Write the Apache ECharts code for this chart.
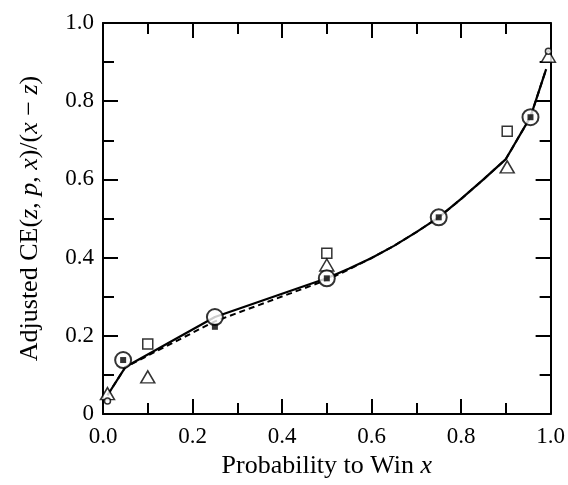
<!DOCTYPE html>
<html><head><meta charset="utf-8">
<script src="https://cdn.jsdelivr.net/npm/echarts@6/dist/echarts.min.js"></script>
<style>html,body{margin:0;padding:0;background:#fff}#c{width:568px;height:485px}</style>
</head><body><div id="c"></div>
<script>
// Solid fitted line
const solidX = [0.01, 0.05, 0.25, 0.5, 0.55, 0.6, 0.65, 0.7, 0.75, 0.8, 0.85, 0.9, 0.955, 0.99];
const solidY = [0.048, 0.12, 0.248, 0.347, 0.372, 0.399, 0.430, 0.465, 0.503, 0.55, 0.60, 0.652, 0.76, 0.882];
// Dashed fitted line
const dashX = [0.01, 0.05, 0.25, 0.5, 0.55, 0.6, 0.65, 0.7, 0.75, 0.8, 0.85, 0.9, 0.955, 0.99];
const dashY = [0.048, 0.12, 0.237, 0.343, 0.370, 0.399, 0.430, 0.465, 0.503, 0.55, 0.60, 0.652, 0.76, 0.882];
// Large open circles
const circX = [0.045, 0.25, 0.5, 0.75, 0.955];
const circY = [0.138, 0.248, 0.347, 0.503, 0.759];
// Small open circles
const smallCircX = [0.01, 0.995];
const smallCircY = [0.033, 0.928];
// Filled squares
const fsqX = [0.045, 0.25, 0.5, 0.75, 0.955];
const fsqY = [0.138, 0.223, 0.347, 0.503, 0.759];
// Open squares
const osqX = [0.1, 0.5, 0.903];
const osqY = [0.179, 0.411, 0.723];
// Open triangles
const triX = [0.01, 0.1, 0.5, 0.903, 0.995];
const triY = [0.052, 0.095, 0.381, 0.632, 0.915];
// Tick labels
const xTickLabels = ['0.0', '0.2', '0.4', '0.6', '0.8', '1.0'];
const yTickLabels = ['0', '0.2', '0.4', '0.6', '0.8', '1.0'];

const pair = (xs, ys) => xs.map((x, i) => [x, ys[i]]);
const FONT = 'Liberation Serif';
const FS = 23;   // tick labels
const NFS = 26;  // axis names
const chart = echarts.init(document.getElementById('c'), null, {renderer: 'canvas'});

const baseAxis = {
  min: 0, max: 1, interval: 0.2,
  axisLine: {show: true, onZero: false, lineStyle: {color: '#000', width: 2}},
  axisTick: {show: true, inside: true, length: 15, lineStyle: {color: '#000', width: 2}},
  minorTick: {show: true, splitNumber: 2, length: 11, lineStyle: {color: '#000', width: 2}},
  splitLine: {show: false},
  minorSplitLine: {show: false}
};
const nameRich = {
  a: {fontFamily: FONT, fontSize: NFS, color: '#000'},
  i: {fontFamily: FONT, fontSize: NFS, fontStyle: 'italic', color: '#000'}
};

chart.setOption({
  animation: false,
  backgroundColor: '#fff',
  grid: {left: 103, right: 15, top: 23, bottom: 71},
  xAxis: [
    Object.assign({}, baseAxis, {
      type: 'value', position: 'bottom',
      axisLabel: {fontFamily: FONT, fontSize: FS, color: '#000', margin: 11,
        formatter: v => xTickLabels[Math.round(v / 0.2)]},
      name: '{a|Probability to Win }{i|x}', nameLocation: 'middle', nameGap: 38,
      nameTextStyle: {rich: nameRich}
    }),
    Object.assign({}, baseAxis, {
      type: 'value', position: 'top', axisLabel: {show: false}
    })
  ],
  yAxis: [
    Object.assign({}, baseAxis, {
      type: 'value', position: 'left',
      axisLabel: {fontFamily: FONT, fontSize: FS, color: '#000', margin: 9,
        formatter: v => yTickLabels[Math.round(v / 0.2)]},
      name: '{a|Adjusted CE(}{i|z}{a|, }{i|p}{a|, }{i|x}{a|)/(}{i|x}{a| − }{i|z}{a|)}',
      nameLocation: 'middle', nameGap: 60, nameRotate: 90,
      nameTextStyle: {rich: nameRich}
    }),
    Object.assign({}, baseAxis, {
      type: 'value', position: 'right', axisLabel: {show: false}
    })
  ],
  series: [
    {type: 'line', data: pair(dashX, dashY), showSymbol: false, smooth: false,
      lineStyle: {color: '#000', width: 2, type: [6, 4]}, z: 2},
    {type: 'line', data: pair(solidX, solidY), showSymbol: false, smooth: false,
      lineStyle: {color: '#000', width: 2.2}, z: 3},
    {type: 'scatter', data: pair(osqX, osqY), symbol: 'rect', symbolSize: 10,
      itemStyle: {color: '#fff', borderColor: '#000', borderWidth: 1.5}, z: 4},
    {type: 'scatter', data: pair(triX, triY), symbol: 'triangle', symbolSize: [14, 12],
      itemStyle: {color: '#fff', borderColor: '#000', borderWidth: 1.5}, z: 4},
    {type: 'scatter', data: pair(smallCircX, smallCircY), symbol: 'circle', symbolSize: 6,
      itemStyle: {color: '#fff', borderColor: '#000', borderWidth: 1.5}, z: 5},
    {type: 'scatter', data: pair(circX, circY), symbol: 'circle', symbolSize: 16,
      itemStyle: {color: '#fff', borderColor: '#000', borderWidth: 2}, z: 5},
    {type: 'scatter', data: pair(fsqX, fsqY), symbol: 'rect', symbolSize: 6,
      itemStyle: {color: '#000'}, z: 6}
  ]
});
</script></body></html>
